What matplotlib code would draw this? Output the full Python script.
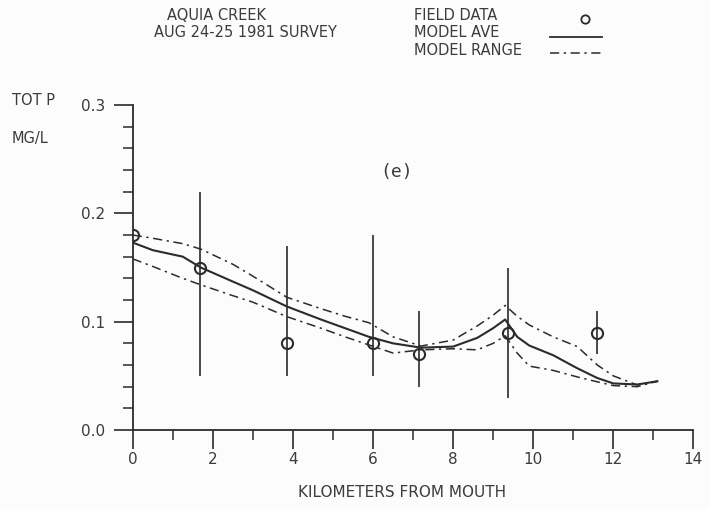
import numpy as np
import matplotlib
matplotlib.use("Agg")
import matplotlib.pyplot as plt
from matplotlib.lines import Line2D
from matplotlib.ticker import MultipleLocator

# Field measurements (km from mouth, total P mg/L, range low/high)
field_km = [0.0, 1.68, 3.85, 6.01, 7.15, 9.36, 11.59]
field_tp = [0.18, 0.15, 0.08, 0.08, 0.07, 0.09, 0.09]
field_lo = [0.18, 0.05, 0.05, 0.05, 0.04, 0.03, 0.07]
field_hi = [0.18, 0.22, 0.17, 0.18, 0.11, 0.15, 0.11]

# Model output along the creek
model_km = [0.0, 0.5, 1.25, 1.7, 2.5, 3.0, 3.85, 4.7, 5.3, 5.9, 6.5, 7.2,
            8.0, 8.6, 9.0, 9.3, 9.6, 9.9, 10.5, 11.1, 11.6, 12.0, 12.6, 13.1]
model_ave = [0.173, 0.166, 0.160, 0.150, 0.137, 0.129, 0.114, 0.102, 0.094,
             0.086, 0.080, 0.076, 0.077, 0.085, 0.094, 0.102, 0.086, 0.078,
             0.069, 0.057, 0.048, 0.043, 0.042, 0.045]
model_max = [0.180, 0.177, 0.172, 0.167, 0.153, 0.142, 0.1225, 0.112, 0.105,
             0.099, 0.086, 0.0775, 0.083, 0.096, 0.106, 0.115, 0.105, 0.097,
             0.086, 0.077, 0.060, 0.050, 0.0415, 0.045]
model_min = [0.158, 0.151, 0.140, 0.134, 0.124, 0.118, 0.1046, 0.094, 0.086,
             0.0785, 0.071, 0.074, 0.075, 0.074, 0.080, 0.087, 0.071, 0.059,
             0.055, 0.049, 0.0445, 0.041, 0.040, 0.045]

ink = "#2b2b2b"
txt = "#3c3c3c"
dashdot = (0, (6, 3, 1.5, 3))

fig = plt.figure(figsize=(7.09, 5.09), dpi=100)
fig.patch.set_facecolor("#fbfcfb")
ax = fig.add_axes([0.1872, 0.1552, 0.7908, 0.6385])
ax.set_facecolor("#fbfcfb")

ax.plot(model_km, model_ave, color=ink, lw=1.5)
ax.plot(model_km, model_max, color=ink, lw=1.1, linestyle=dashdot)
ax.plot(model_km, model_min, color=ink, lw=1.1, linestyle=dashdot)

tp = np.array(field_tp)
yerr = [tp - np.array(field_lo), np.array(field_hi) - tp]
ax.errorbar(field_km, field_tp, yerr=yerr, fmt="o", color=ink, ecolor=ink,
            elinewidth=1.2, capsize=0, ms=8, mfc="none", mew=1.5)

ax.set_xlim(0, 14)
ax.set_ylim(0, 0.3)
ax.xaxis.set_major_locator(MultipleLocator(2))
ax.xaxis.set_minor_locator(MultipleLocator(1))
ax.yaxis.set_major_locator(MultipleLocator(0.1))
ax.yaxis.set_minor_locator(MultipleLocator(0.02))
ax.xaxis.set_major_formatter(lambda v, p: f"{v:.0f}")
ax.yaxis.set_major_formatter(lambda v, p: f"{v:.1f}")

for s in ("top", "right"):
    ax.spines[s].set_visible(False)
for s in ("left", "bottom"):
    ax.spines[s].set_color(ink)
    ax.spines[s].set_linewidth(1.3)

ax.tick_params(which="major", direction="out", length=14, width=1.2,
               color=ink, labelcolor=txt, labelsize=11)
ax.tick_params(which="minor", direction="out", length=7, width=1.1, color=ink)
ax.tick_params(axis="x", pad=2)
ax.tick_params(axis="y", pad=6)

ax.text(6.6, 0.238, "(e)", fontsize=13, family="DejaVu Sans Mono",
        color=txt, ha="center", va="center")

# axis labels
fig.text(0.017, 0.803, "TOT P", fontsize=10.5, color=txt, va="center")
fig.text(0.017, 0.728, "MG/L", fontsize=10.5, color=txt, va="center")
fig.text(0.567, 0.033, "KILOMETERS FROM MOUTH", fontsize=11, color=txt,
         ha="center", va="center")

# header and key
fig.text(0.235, 0.970, "AQUIA CREEK", fontsize=10.5, color=txt, va="center")
fig.text(0.217, 0.937, "AUG 24-25 1981 SURVEY", fontsize=10.5, color=txt, va="center")
fig.text(0.584, 0.970, "FIELD DATA", fontsize=10.5, color=txt, va="center")
fig.text(0.584, 0.937, "MODEL AVE", fontsize=10.5, color=txt, va="center")
fig.text(0.584, 0.900, "MODEL RANGE", fontsize=10.5, color=txt, va="center")

fig.add_artist(Line2D([0.825], [0.962], marker="o", ms=6, mfc="none",
                      mec=ink, mew=1.3, transform=fig.transFigure))
fig.add_artist(Line2D([0.776, 0.849], [0.927, 0.927], color=ink, lw=1.3,
                      transform=fig.transFigure))
fig.add_artist(Line2D([0.776, 0.849], [0.896, 0.896], color=ink, lw=1.1,
                      linestyle=dashdot, transform=fig.transFigure))

fig.savefig("out.png", dpi=100, facecolor=fig.get_facecolor())
